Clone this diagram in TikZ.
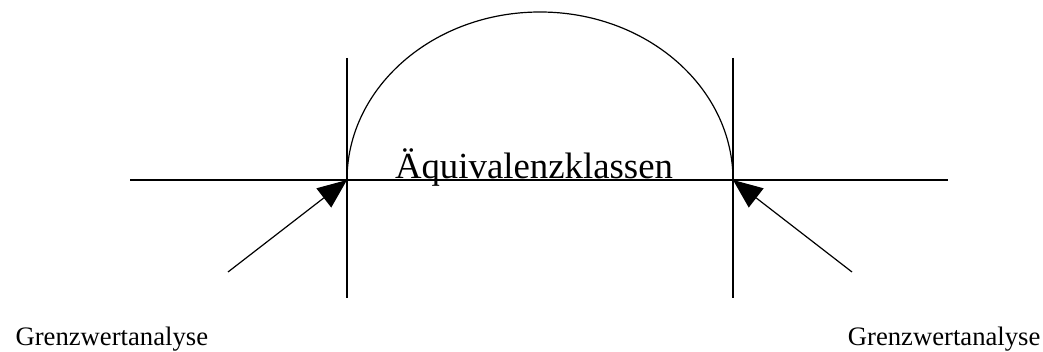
\documentclass[tikz,border=0pt]{standalone}
\usepackage{fontspec}
\setmainfont{Liberation Serif}
\usetikzlibrary{arrows.meta}
\definecolor{ink}{HTML}{000000}

\begin{document}
\begin{tikzpicture}[x=0.75pt,y=0.75pt,line width=.9pt,draw=ink,text=ink,axis/.style={draw=ink},limit/.style={-{Triangle[length=22pt,width=18pt]},draw=ink},label/.style={inner sep=0pt,font=\fontsize{20}{24}\selectfont}]
 \useasboundingbox (0,0) rectangle (1043,352);
 % range line and the two borders
 \coordinate (rangeW) at (130,172); \coordinate (rangeE) at (948,172);
 \coordinate (lowB) at (347,172); \coordinate (highB) at (733,172);
 \coordinate (lowTop) at (347,294); \coordinate (lowBot) at (347,54);
 \coordinate (highTop) at (733,294); \coordinate (highBot) at (733,54);
 \draw[axis] (rangeW)--(rangeE);
 \draw[axis] (lowTop)--(lowBot);
 \draw[axis] (highTop)--(highBot);
 \draw[axis] (lowB) arc[start angle=180,end angle=0,x radius=193,y radius=168];
 \node[label,anchor=base,font=\fontsize{27.6}{32}\selectfont] (klassen) at (534,173) {Äquivalenzklassen};
 % boundary value arrows
 \node[label,anchor=base west] (grenzL) at (15,6) {Grenzwertanalyse};
 \node[label,anchor=base east] (grenzR) at (1041,6) {Grenzwertanalyse};
 \coordinate (tailL) at (228,80); \coordinate (tailR) at (852,80);
 \draw[limit] (tailL)--(lowB);
 \draw[limit] (tailR)--(highB);
\end{tikzpicture}
\end{document}
